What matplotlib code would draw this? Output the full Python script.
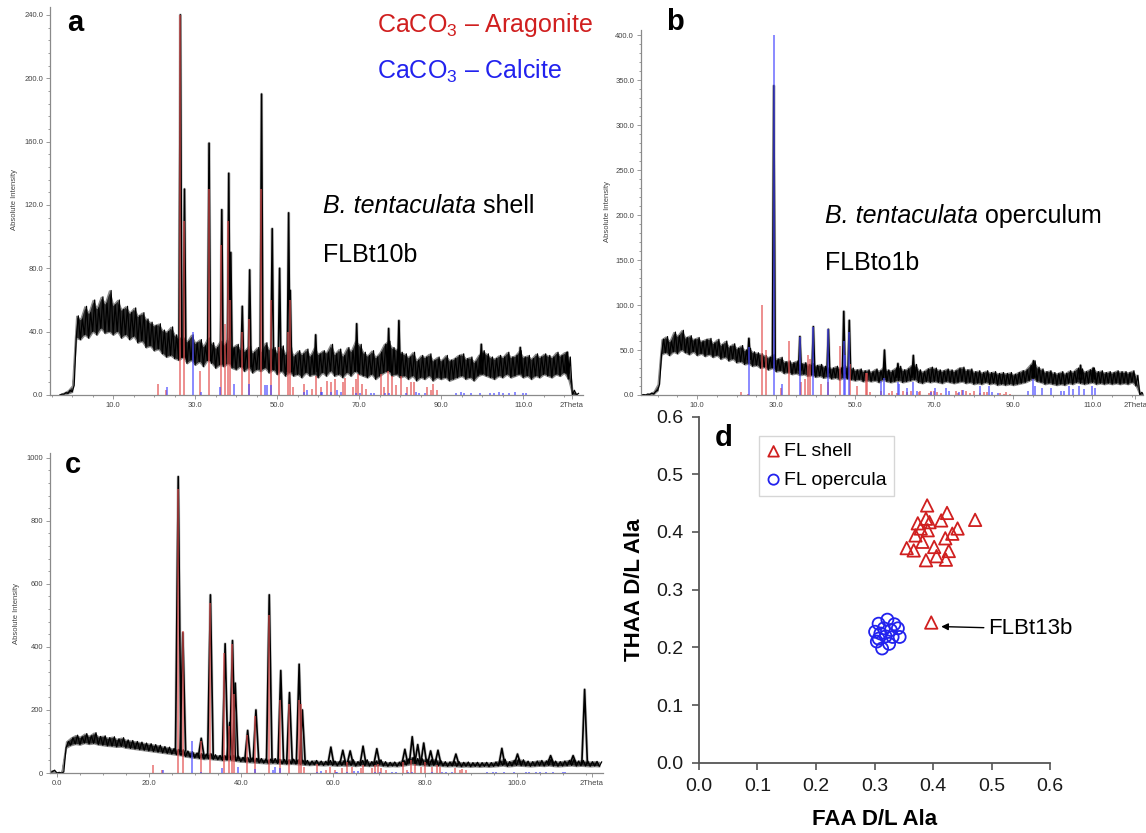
import numpy as np
import matplotlib
matplotlib.use("Agg")
import matplotlib.pyplot as plt
from matplotlib.ticker import MultipleLocator, FormatStrFormatter

plt.rcParams['font.family'] = ['Liberation Sans', 'DejaVu Sans']
plt.rcParams['mathtext.fontset'] = 'custom'
plt.rcParams['mathtext.rm'] = 'Liberation Sans'
plt.rcParams['mathtext.it'] = 'Liberation Sans:italic'

W, H = 1146, 833

### XRD background band (lower / upper edge of the noisy trace), 1 deg steps
a_x = np.arange(-3, 124)
a_lo = [0, 0.5, 1, 2, 36, 35, 38, 36, 40, 38,
        42, 39, 40, 38, 40, 36, 38, 35, 37, 33,
        34, 30, 31, 28, 29, 26, 24, 25, 23, 22,
        24, 20, 22, 19, 21, 18, 22, 20, 17, 19,
        18, 20, 17, 16, 18, 15, 17, 14, 16, 15,
        17, 14, 16, 13, 15, 12, 14, 12, 13, 11,
        14, 12, 13, 11, 14, 12, 15, 12, 13, 11,
        14, 12, 15, 13, 12, 11, 13, 10, 12, 14,
        15, 12, 13, 11, 12, 10, 12, 9, 11, 10,
        12, 9, 11, 10, 11, 9, 10, 11, 12, 10,
        11, 9, 12, 13, 12, 11, 10, 12, 11, 13,
        11, 12, 13, 11, 12, 10, 12, 11, 13, 12,
        11, 13, 12, 14, 10, 0, 0]
a_hi = [0.5, 1.5, 3, 6, 50, 48, 56, 52, 60, 55,
        62, 58, 66, 57, 60, 54, 56, 52, 55, 50,
        52, 48, 46, 44, 45, 41, 40, 43, 38, 36,
        36, 34, 38, 33, 35, 31, 36, 33, 30, 34,
        32, 36, 30, 32, 29, 28, 31, 27, 30, 28,
        33, 29, 30, 27, 31, 26, 30, 25, 28, 26,
        29, 25, 30, 26, 28, 27, 32, 26, 29, 25,
        30, 28, 34, 32, 27, 25, 28, 24, 27, 32,
        34, 30, 29, 27, 26, 24, 27, 22, 25, 24,
        26, 22, 24, 22, 25, 22, 23, 25, 26, 23,
        24, 21, 25, 28, 26, 24, 23, 25, 24, 27,
        24, 25, 28, 24, 25, 23, 26, 24, 26, 25,
        24, 27, 25, 27, 24, 3, 1]

b_x = np.arange(-4, 124)
b_lo = [0, 0, 0.5, 1, 5, 45, 47, 44, 48, 46,
        50, 47, 45, 48, 44, 46, 43, 45, 42, 44,
        40, 42, 38, 40, 36, 37, 34, 35, 32, 33,
        30, 31, 28, 30, 26, 27, 24, 25, 23, 24,
        22, 23, 21, 22, 20, 21, 19, 20, 18, 19,
        17, 19, 18, 17, 16, 17, 15, 16, 15, 16,
        14, 17, 15, 14, 15, 16, 14, 15, 16, 17,
        14, 13, 15, 14, 15, 14, 13, 15, 14, 13,
        14, 15, 13, 14, 12, 13, 12, 14, 12, 13,
        11, 12, 11, 12, 11, 12, 13, 14, 16, 18,
        15, 14, 12, 13, 12, 11, 12, 11, 13, 12,
        14, 13, 12, 13, 14, 12, 13, 12, 13, 12,
        13, 12, 13, 12, 14, 10, 0, 0]
b_hi = [0.5, 1, 2, 4, 12, 62, 65, 60, 70, 66,
        72, 64, 66, 62, 64, 60, 62, 63, 58, 62,
        56, 60, 54, 57, 52, 55, 50, 52, 48, 47,
        46, 44, 42, 45, 40, 42, 37, 38, 36, 38,
        35, 36, 34, 35, 33, 34, 32, 31, 30, 32,
        30, 33, 31, 30, 28, 29, 27, 28, 26, 29,
        27, 31, 28, 27, 30, 32, 28, 29, 33, 34,
        28, 26, 29, 31, 30, 28, 27, 29, 28, 27,
        30, 31, 28, 29, 26, 27, 25, 27, 25, 26,
        24, 25, 24, 25, 23, 25, 27, 28, 33, 38,
        31, 29, 26, 27, 25, 24, 26, 24, 27, 26,
        30, 29, 26, 28, 30, 26, 27, 25, 26, 25,
        27, 26, 26, 25, 27, 22, 3, 1]

c_x = np.arange(-2, 119)
c_lo = [0, 4, 0, 0, 80, 88, 92, 90, 95, 92,
        94, 90, 88, 86, 85, 83, 84, 80, 78, 76,
        74, 72, 70, 68, 66, 64, 62, 60, 58, 56,
        52, 50, 48, 46, 44, 45, 43, 42, 40, 41,
        40, 38, 36, 35, 34, 33, 32, 31, 30, 31,
        30, 29, 28, 29, 28, 27, 26, 25, 26, 25,
        24, 25, 24, 23, 24, 23, 24, 22, 24, 23,
        22, 23, 24, 22, 21, 22, 21, 23, 25, 28,
        26, 25, 24, 23, 24, 23, 22, 21, 22, 21,
        20, 21, 20, 21, 20, 21, 20, 21, 22, 24,
        21, 22, 24, 23, 22, 21, 22, 23, 22, 24,
        22, 21, 22, 23, 24, 22, 23, 22, 21, 22,
        21]
c_hi = [2, 9, 2, 3, 100, 112, 120, 115, 125, 118,
        128, 116, 118, 112, 115, 108, 112, 105, 103, 100,
        98, 95, 93, 90, 88, 84, 82, 78, 75, 74,
        70, 68, 64, 62, 60, 62, 58, 56, 55, 58,
        56, 54, 50, 50, 48, 47, 46, 45, 44, 46,
        44, 43, 42, 44, 42, 41, 40, 38, 40, 38,
        37, 40, 38, 37, 40, 38, 42, 36, 40, 42,
        36, 38, 42, 36, 34, 35, 34, 40, 44, 50,
        46, 45, 44, 42, 44, 40, 36, 35, 38, 36,
        34, 35, 33, 34, 33, 34, 33, 35, 38, 44,
        36, 40, 45, 42, 38, 36, 38, 40, 38, 44,
        38, 36, 38, 40, 44, 38, 40, 38, 36, 37,
        35]

### measured peaks: position, top, foot
a_pk_pos = [26.4, 27.4, 33.4, 36.5, 38.2, 38.7, 41.5, 43.3, 46.2, 48.8,
            50.6, 52.8, 53.2, 59.4, 69.4, 77.2, 79.7, 99.8, 109.3, 120.8]
a_pk_h = [240, 130, 159, 117, 140, 90, 56, 79, 190, 105,
          80, 115, 66, 38, 45, 42, 47, 32, 30, 27]
a_pk_base = [24, 24, 22, 20, 20, 20, 18, 18, 17, 16,
             16, 15, 15, 15, 15, 15, 14, 14, 14, 14]

b_pk_pos = [23.1, 29.4, 36.0, 39.4, 43.2, 47.1, 48.5, 57.4, 60.8, 64.7, 95.1, 107.0, 110.2]
b_pk_h = [63, 344, 65, 76, 73, 93, 83, 50, 35, 44, 38, 33, 30]
b_pk_base = [40, 35, 28, 26, 25, 24, 23, 20, 20, 20, 20, 18, 18]

c_pk_pos = [26.4, 27.4, 31.4, 33.4, 36.6, 37.6, 38.2, 38.8, 41.5, 43.3,
            46.2, 48.7, 50.6, 52.7, 53.4, 59.6, 62.2, 63.8, 66.6, 69.6,
            75.7, 77.3, 78.5, 79.8, 81.3, 82.9, 86.8, 96.8, 100.2, 107.4,
            112.3, 114.8]
c_pk_h = [940, 445, 110, 565, 410, 160, 420, 285, 135, 200,
          565, 325, 255, 345, 200, 82, 72, 70, 85, 77,
          75, 115, 90, 95, 70, 72, 60, 78, 60, 55,
          55, 265]
c_pk_base = [70, 70, 55, 55, 50, 50, 50, 48, 45, 42,
             40, 38, 37, 36, 36, 32, 32, 32, 32, 32,
             32, 35, 34, 34, 32, 32, 30, 30, 32, 32,
             32, 32]

### reference sticks
arag_pos = [21.0, 22.9, 26.4, 27.4, 31.3, 33.3, 36.3, 37.4, 38.0, 38.6,
            41.4, 43.1, 46.1, 48.6, 50.4, 52.6, 53.1, 53.8, 56.6, 58.5,
            59.4, 60.6, 62.1, 63.1, 64.1, 66.1, 66.5, 68.6, 69.2, 69.8,
            70.6, 71.6, 75.4, 76.1, 77.1, 77.9, 79.1, 80.1, 81.6, 82.6,
            83.3, 86.6, 87.6, 88.1, 89.1]
a_arag_h = [7, 3, 240, 110, 15, 130, 95, 45, 110, 60,
            40, 48, 130, 60, 30, 40, 60, 5, 7, 4,
            12, 5, 9, 8, 10, 8, 11, 5, 10, 13,
            7, 4, 13, 5, 15, 12, 6, 12, 5, 8,
            8, 5, 3, 7, 3]
b_arag_h = [3, 1, 100, 50, 8, 60, 15, 18, 45, 40,
            12, 15, 55, 35, 10, 25, 25, 3, 4, 2,
            5, 2, 4, 3, 4, 3, 5, 2, 4, 5,
            3, 2, 5, 2, 6, 5, 2, 5, 2, 3,
            3, 2, 1, 3, 1]
c_arag_h = [25, 10, 900, 450, 100, 540, 380, 150, 410, 250,
            120, 180, 500, 230, 220, 230, 220, 20, 30, 10,
            20, 10, 15, 35, 20, 15, 25, 15, 25, 30,
            15, 10, 35, 10, 40, 30, 20, 35, 20, 25,
            20, 15, 10, 12, 8]

calc_pos = [23.1, 29.4, 31.4, 36.0, 39.4, 43.2, 47.1, 47.5, 48.5, 56.6,
            57.4, 60.7, 61.0, 63.1, 64.7, 65.6, 69.2, 70.3, 72.9, 73.7,
            76.3, 77.2, 81.5, 83.8, 84.7, 86.0, 93.6, 94.9, 95.6, 97.3,
            99.5, 102.0, 102.8, 104.2, 105.0, 106.5, 108.0, 110.0, 110.6]
a_calc_h = [5, 40, 2, 5, 7, 7, 6, 6, 6, 2,
            3, 2, 2, 2, 3, 2, 1, 1, 1, 1,
            1, 1, 1, 2, 1, 1, 1, 2, 1, 1,
            1, 1, 1, 2, 1, 1, 2, 1, 1]
b_calc_h = [53, 400, 12, 65, 76, 73, 60, 45, 70, 16,
            19, 15, 12, 8, 15, 5, 3, 8, 8, 5,
            3, 6, 10, 10, 3, 2, 5, 18, 10, 8,
            8, 5, 5, 10, 7, 10, 7, 10, 8]
c_calc_h = [10, 100, 3, 15, 18, 12, 10, 18, 15, 4,
            5, 3, 3, 2, 5, 5, 2, 2, 2, 2,
            2, 2, 3, 3, 2, 2, 2, 3, 2, 2,
            3, 2, 2, 3, 2, 2, 3, 2, 2]

### amino acid racemisation
shell_x = [0.390, 0.424, 0.472, 0.388, 0.374, 0.394, 0.414, 0.379, 0.391, 0.442, 0.433,
           0.370, 0.421, 0.382, 0.355, 0.402, 0.367, 0.427, 0.406, 0.388, 0.422, 0.397]
shell_y = [0.446, 0.433, 0.421, 0.423, 0.415, 0.417, 0.420, 0.406, 0.403, 0.406, 0.397,
           0.394, 0.389, 0.383, 0.372, 0.374, 0.368, 0.367, 0.358, 0.351, 0.352, 0.243]
oper_x = [0.322, 0.307, 0.334, 0.301, 0.316, 0.328, 0.340, 0.343, 0.307, 0.319,
          0.304, 0.325, 0.313, 0.331, 0.310]
oper_y = [0.248, 0.241, 0.240, 0.227, 0.233, 0.230, 0.233, 0.218, 0.215, 0.219,
          0.210, 0.206, 0.198, 0.218, 0.224]

RED = '#d01f1f'
BLUE = '#2222ee'


def rect(l, t, r, b):
    return [l / W, 1 - b / H, (r - l) / W, (b - t) / H]


def ftext(x, y, s, **kw):
    return fig.text(x / W, 1 - y / H, s, **kw)


def two_part(x, y, ital, rest, **kw):
    # italic species name followed by upright word
    t = ftext(x, y, ital, style='italic', **kw)
    fig.canvas.draw()
    bb = t.get_window_extent()
    ftext(bb.x1, y, rest, **kw)


def xrd(ax, x, lo, hi, pk_pos, pk_h, pk_base, pw, ar_h, ca_h,
        xlim, ylim, xt, ymaj, ymin, yfmt, theta_at):
    x = np.asarray(x, float)
    ax.fill_between(x, lo, hi, color='#2a2a2a', lw=1.0, ec='#8c8c8c', zorder=2)
    # zig-zag between the two edges gives the noise texture
    zx = np.ravel(np.column_stack([x, x + 0.5]))
    zy = np.ravel(np.column_stack([lo, hi]))
    ax.plot(zx, zy, color='black', lw=0.9, zorder=2)
    for p, h, b in zip(pk_pos, pk_h, pk_base):
        ax.plot([p - pw, p, p + pw], [b, h, b], color='black', lw=1.2, zorder=2)
        ax.plot([p - pw, p, p + pw], [b, h, b], color='#777777', lw=2.2,
                alpha=0.4, zorder=1)
    ax.vlines(arag_pos, 0, ar_h, colors='#e35050', lw=1.2, alpha=0.75, zorder=3)
    ax.vlines(calc_pos, 0, ca_h, colors='#4a4aff', lw=1.2, alpha=0.75, zorder=3)
    ax.set_xlim(*xlim)
    ax.set_ylim(*ylim)
    ax.set_xticks(list(xt) + [theta_at])
    ax.set_xticklabels(['%.1f' % v for v in xt] + ['2Theta'])
    ax.xaxis.set_minor_locator(MultipleLocator(5))
    ax.yaxis.set_major_locator(MultipleLocator(ymaj))
    ax.yaxis.set_minor_locator(MultipleLocator(ymin))
    ax.yaxis.set_major_formatter(FormatStrFormatter(yfmt))
    for s in ['top', 'right']:
        ax.spines[s].set_visible(False)
    for s in ['left', 'bottom']:
        ax.spines[s].set_color('#8a8a8a')
        ax.spines[s].set_linewidth(0.9)
    ax.tick_params(which='both', colors='#8a8a8a', labelcolor='#444444',
                   labelsize=5.5, width=0.6, pad=2)
    ax.tick_params(which='major', length=3)
    ax.tick_params(which='minor', length=1.5)


fig = plt.figure(figsize=(W / 100, H / 100), dpi=100)

ax_a = fig.add_axes(rect(50, 7, 583, 395))
xrd(ax_a, a_x, a_lo, a_hi, a_pk_pos, a_pk_h, a_pk_base, 0.35, a_arag_h, a_calc_h,
    (-5.4, 124.6), (0, 245), [10, 30, 50, 70, 90, 110], 40, 8, '%.1f', 121.9)

ax_b = fig.add_axes(rect(641, 30, 1143, 395))
xrd(ax_b, b_x, b_lo, b_hi, b_pk_pos, b_pk_h, b_pk_base, 0.35, b_arag_h, b_calc_h,
    (-4.2, 122.8), (0, 406), [10, 30, 50, 70, 90, 110], 50, 10, '%.1f', 120.8)

ax_c = fig.add_axes(rect(50, 453, 603, 773))
xrd(ax_c, c_x, c_lo, c_hi, c_pk_pos, c_pk_h, c_pk_base, 0.6, c_arag_h, c_calc_h,
    (-1.5, 118.8), (0, 1015), [0, 20, 40, 60, 80, 100], 200, 40, '%d', 116.3)

for (x, y) in [(15, 200), (607, 212), (16, 613)]:
    ftext(x, y, 'Absolute Intensity', rotation=90, fontsize=5.5, color='#444444',
          ha='center', va='center')

# panel letters and captions
ftext(75, 23, 'a', fontsize=21, fontweight='bold', ha='center', va='center')
ftext(675, 22, 'b', fontsize=21, fontweight='bold', ha='center', va='center')
ftext(73, 465, 'c', fontsize=21, fontweight='bold', ha='center', va='center')
ftext(724, 438, 'd', fontsize=21, fontweight='bold', ha='center', va='center')

ftext(377, 32, r'CaCO$_3$ – Aragonite', fontsize=18, color=RED, va='baseline')
ftext(377, 79, r'CaCO$_3$ – Calcite', fontsize=18, color=BLUE, va='baseline')
two_part(323, 213, 'B. tentaculata', ' shell', fontsize=18, va='baseline')
ftext(323, 262, 'FLBt10b', fontsize=18, va='baseline')
two_part(825, 223, 'B. tentaculata', ' operculum', fontsize=18, va='baseline')
ftext(825, 270, 'FLBto1b', fontsize=18, va='baseline')

# panel d
ax_d = fig.add_axes(rect(699, 416.6, 1050, 762.7))
ax_d.scatter(shell_x, shell_y, marker='^', s=80, facecolors='none',
             edgecolors=RED, linewidths=1.3, label='FL shell', zorder=3)
ax_d.scatter(oper_x, oper_y, marker='o', s=75, facecolors='none',
             edgecolors=BLUE, linewidths=1.3, label='FL opercula', zorder=3)
ax_d.set_xlim(0, 0.6)
ax_d.set_ylim(0, 0.6)
ax_d.xaxis.set_major_locator(MultipleLocator(0.1))
ax_d.yaxis.set_major_locator(MultipleLocator(0.1))
ax_d.xaxis.set_major_formatter(FormatStrFormatter('%.1f'))
ax_d.yaxis.set_major_formatter(FormatStrFormatter('%.1f'))
for s in ['top', 'right']:
    ax_d.spines[s].set_visible(False)
for s in ['left', 'bottom']:
    ax_d.spines[s].set_color('#555555')
    ax_d.spines[s].set_linewidth(1.3)
ax_d.tick_params(colors='#555555', labelcolor='#1a1a1a', labelsize=14,
                 length=5, width=1.2, pad=6)
ax_d.set_xlabel('FAA D/L Ala', fontsize=16, fontweight='bold', labelpad=10)
ax_d.set_ylabel('THAA D/L Ala', fontsize=16, fontweight='bold', labelpad=8)
ax_d.annotate('FLBt13b', xy=(0.414, 0.236), xytext=(0.494, 0.232),
              fontsize=16, ha='left', va='center',
              arrowprops=dict(arrowstyle='-|>', color='black', lw=1.0,
                              shrinkA=1, shrinkB=0, mutation_scale=10))
leg = ax_d.legend(loc='upper left', bbox_to_anchor=(759 / W, 1 - 436 / H),
                  bbox_transform=fig.transFigure, fontsize=14, frameon=True,
                  fancybox=False, borderpad=0.35, handletextpad=0.15,
                  handlelength=0.8, labelspacing=0.55, borderaxespad=0,
                  markerscale=0.85)
leg.get_frame().set_edgecolor('#cccccc')
leg.get_frame().set_linewidth(1.0)

fig.savefig('out.png', dpi=100)
